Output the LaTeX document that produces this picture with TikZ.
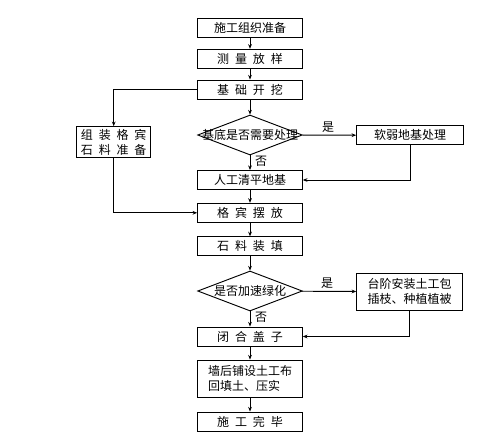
\documentclass[tikz,border=0pt]{standalone}
\usepackage{fontspec}
\setmainfont{Noto Sans CJK SC}
\usetikzlibrary{shapes.geometric,arrows.meta}
\newcommand{\gp}{\hspace{4.4pt}}
\begin{document}
\begin{tikzpicture}[x=0.75pt,y=-0.75pt,
  font=\fontsize{9pt}{11.25pt}\selectfont,
  box/.style={draw,line width=0.7pt,minimum width=78.5pt,minimum height=14.25pt,inner sep=0pt,align=center},
  decision/.style={draw,diamond,line width=0.7pt,minimum width=78.5pt,minimum height=30pt,inner sep=0pt},
  conn/.style={line width=0.7pt,-{Stealth[length=3.5pt,width=2.8pt]}},
  lbl/.style={inner sep=0pt}]
\useasboundingbox (0,0) rectangle (491,439);

\node[box] (b1) at (250,27.8) {施工组织准备};
\node[box] (b2) at (250,58.8) {测\gp 量\gp 放\gp 样};
\node[box] (b3) at (250,89.5) {基\gp 础\gp 开\gp 挖};
\node[decision,label=center:{基底是否需要处理}] (d1) at (250,135) {};
\node[box] (b4) at (250,180) {人工清平地基};
\node[box] (b5) at (250,212.8) {格\gp 宾\gp 摆\gp 放};
\node[box] (b6) at (250,246.3) {石\gp 料\gp 装\gp 填};
\node[decision,label=center:{是否加速绿化}] (d2) at (250,291) {};
\node[box] (b7) at (250,336.5) {闭\gp 合\gp 盖\gp 子};
\node[box,minimum height=28pt,align=left] (b8) at (250,378.7) {墙后铺设土工布\\回填土、压实};
\node[box] (b9) at (250,421.5) {施\gp 工\gp 完\gp 毕};

\node[box,minimum width=55.5pt,minimum height=23.3pt] (L) at (113.7,142.2) {组\gp 装\gp 格\gp 宾\\石\gp 料\gp 准\gp 备};
\node[box,minimum width=80pt] (R1) at (410,135.3) {软弱地基处理};
\node[box,minimum width=79.5pt,minimum height=27.5pt,align=left] (R2) at (409.7,291.7) {台阶安装土工包\\插枝、种植植被};

\node[lbl] (y1) at (328,127) {是};
\node[lbl] (n1) at (261,161) {否};
\node[lbl] (y2) at (327,283) {是};
\node[lbl] (n2) at (261,317) {否};

\draw[conn] (b1) -- (b2);
\draw[conn] (b2) -- (b3);
\draw[conn] (b3) -- (d1);
\draw[conn] (d1) -- (b4);
\draw[conn] (d1) -- (R1);
\draw[conn] (R1.south) |- (b4.east);
\draw[conn] (b3.west) -| (L.north);
\draw[conn] (L.south) |- (b5.west);
\draw[conn] (b4) -- (b5);
\draw[conn] (b5) -- (b6);
\draw[conn] (b6) -- (d2);
\draw[conn] (d2) -- (R2);
\draw[conn] (d2) -- (b7);
\draw[conn] (R2.south) |- (b7.east);
\draw[conn] (b7) -- (b8);
\draw[conn] (b8) -- (b9);
\end{tikzpicture}
\end{document}
